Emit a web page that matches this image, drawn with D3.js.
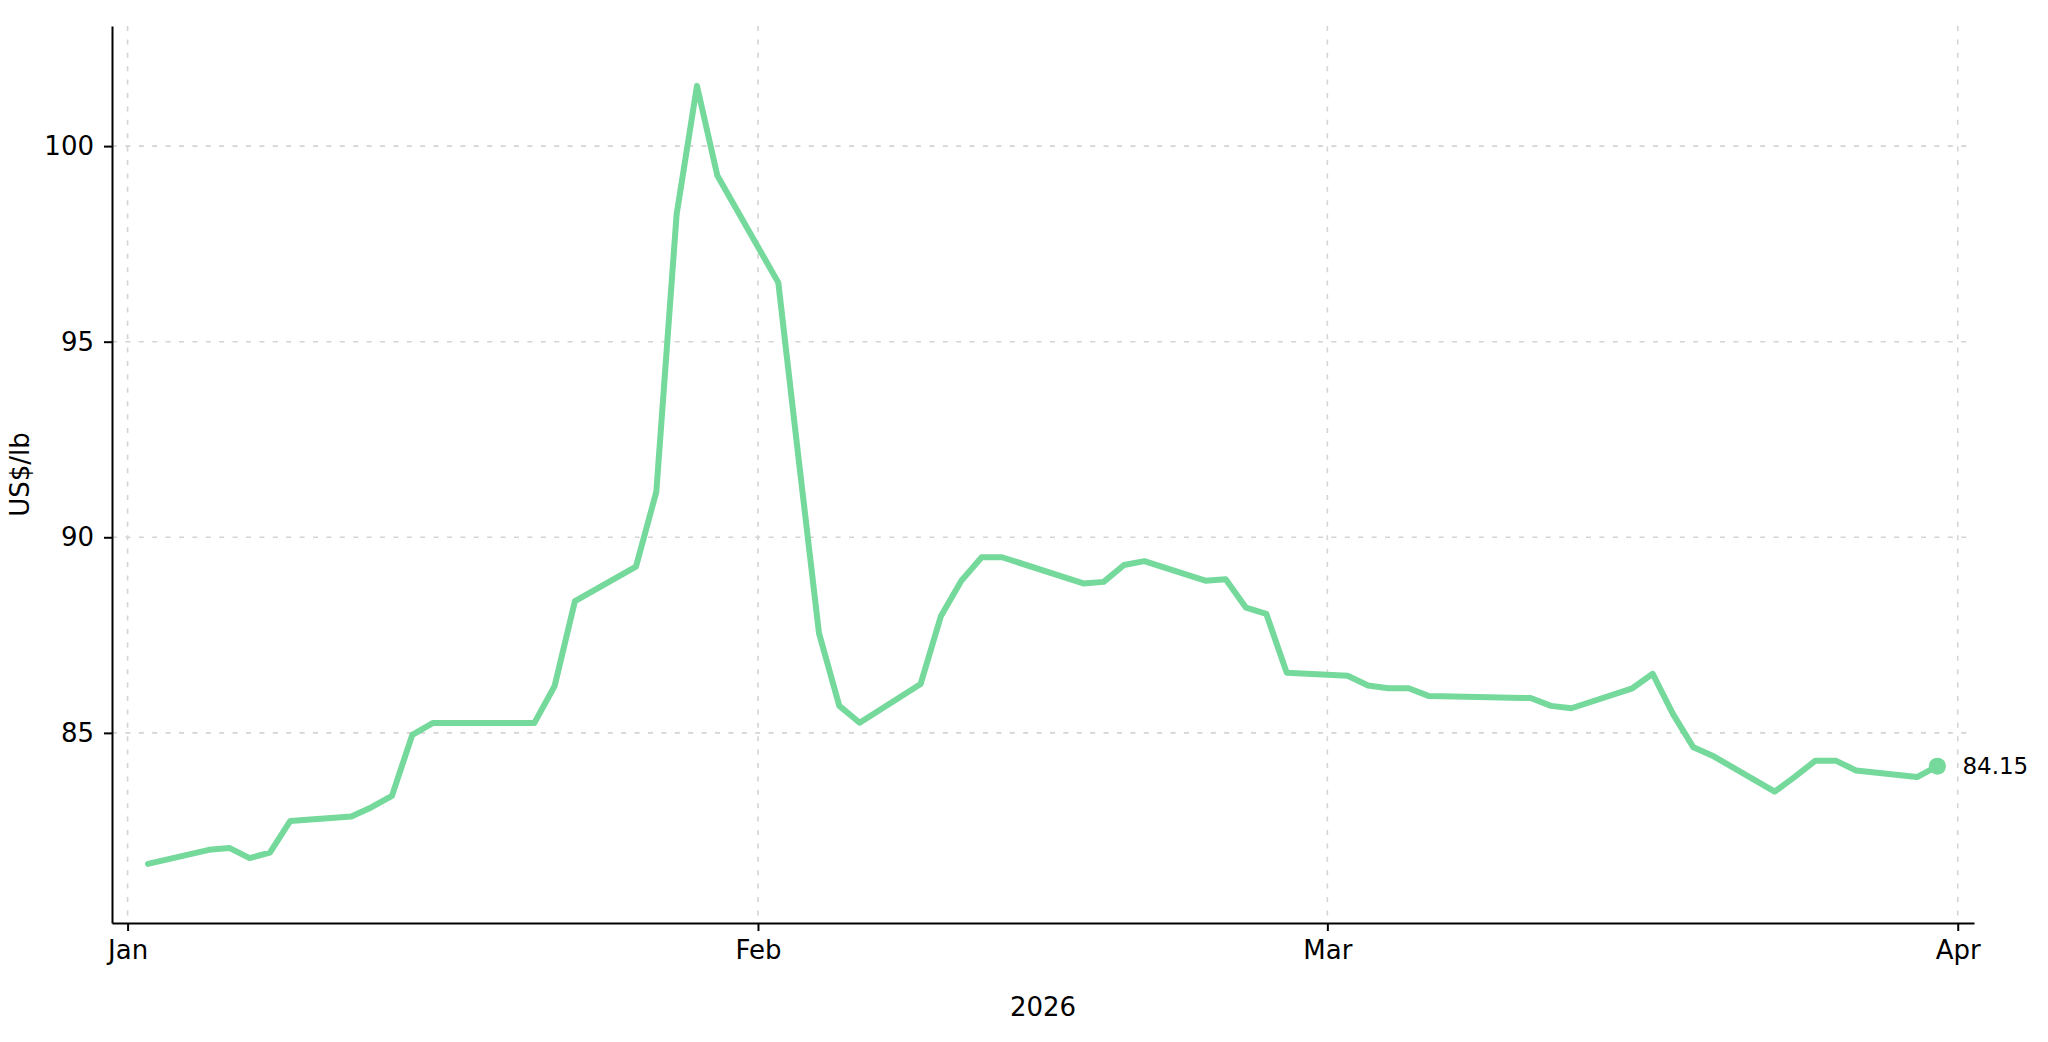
<!DOCTYPE html>
<html>
<head>
<meta charset="utf-8">
<script src="https://cdn.jsdelivr.net/npm/d3@7"></script>
<style>
  body { margin: 0; background: #fff; }
  svg { display: block; font-family: "DejaVu Sans", sans-serif; }
</style>
</head>
<body>
<div id="chart"></div>
<script>
// trading days, Jan - Mar 2026
const dates = [
  '2026-01-02', '2026-01-05', '2026-01-06', '2026-01-07', '2026-01-08', '2026-01-09',
  '2026-01-12', '2026-01-13', '2026-01-14', '2026-01-15', '2026-01-16',
  '2026-01-20', '2026-01-21', '2026-01-22', '2026-01-23',
  '2026-01-26', '2026-01-27', '2026-01-28', '2026-01-29', '2026-01-30',
  '2026-02-02', '2026-02-03', '2026-02-04', '2026-02-05', '2026-02-06',
  '2026-02-09', '2026-02-10', '2026-02-11', '2026-02-12', '2026-02-13',
  '2026-02-17', '2026-02-18', '2026-02-19', '2026-02-20',
  '2026-02-23', '2026-02-24', '2026-02-25', '2026-02-26', '2026-02-27',
  '2026-03-02', '2026-03-03', '2026-03-04', '2026-03-05', '2026-03-06',
  '2026-03-09', '2026-03-10', '2026-03-11', '2026-03-12', '2026-03-13',
  '2026-03-16', '2026-03-17', '2026-03-18', '2026-03-19', '2026-03-20',
  '2026-03-23', '2026-03-24', '2026-03-25', '2026-03-26', '2026-03-27',
  '2026-03-30', '2026-03-31'
];
const prices = [
  81.65, 82.01, 82.06, 81.80, 81.94, 82.75,
  82.86, 83.10, 83.39, 84.95, 85.25,
  85.25, 85.25, 86.20, 88.37,
  89.25, 91.16, 98.26, 101.54, 99.25,
  96.51, 92.00, 87.55, 85.69, 85.26,
  86.25, 87.99, 88.89, 89.49, 89.49,
  88.82, 88.86, 89.29, 89.39,
  88.89, 88.93, 88.20, 88.04, 86.54,
  86.46, 86.21, 86.14, 86.14, 85.94,
  85.91, 85.90, 85.89, 85.69, 85.63,
  86.14, 86.51, 85.48, 84.63, 84.40,
  83.50, 83.88, 84.29, 84.29, 84.04,
  83.87, 84.15
];
const yTicks = [85, 90, 95, 100];
const xTicks = ['2026-01-01', '2026-02-01', '2026-03-01', '2026-04-01'];
const yLabel = 'US$/lb';
const xLabel = '2026';

const width = 2048;
const height = 1042;
const margin = { top: 26, right: 74, bottom: 119, left: 112 };
const lineColor = '#74d99b';

const parse = d3.utcParse('%Y-%m-%d');
const data = dates.map((d, i) => ({ date: parse(d), value: prices[i] }));

const svg = d3.select('#chart')
  .append('svg')
  .attr('width', width)
  .attr('height', height);

const day = 24 * 3600 * 1000;
const jan1 = parse('2026-01-01').getTime();
const x = d3.scaleUtc()
  .domain([new Date(jan1 - 0.767 * day), new Date(jan1 + 90.8 * day)])
  .range([margin.left, width - margin.right]);

const y = d3.scaleLinear()
  .domain([80.14, 103.07])
  .range([height - margin.bottom, margin.top]);

// grid
const grid = svg.append('g')
  .attr('stroke', '#d4d4d4')
  .attr('stroke-width', 1.6)
  .attr('stroke-dasharray', '5,8.4');

grid.selectAll('.hgrid')
  .data(yTicks)
  .join('line')
  .attr('x1', margin.left)
  .attr('x2', width - margin.right)
  .attr('y1', d => y(d))
  .attr('y2', d => y(d));

grid.selectAll('.vgrid')
  .data(xTicks.map(parse))
  .join('line')
  .attr('x1', d => x(d))
  .attr('x2', d => x(d))
  .attr('y1', margin.top)
  .attr('y2', height - margin.bottom);

// axes
const xAxis = svg.append('g')
  .attr('transform', `translate(0, ${height - margin.bottom})`)
  .call(d3.axisBottom(x)
    .tickValues(xTicks.map(parse))
    .tickFormat(d3.utcFormat('%b'))
    .tickSize(8)
    .tickPadding(10)
    .tickSizeOuter(0));

const yAxis = svg.append('g')
  .attr('transform', `translate(${margin.left}, 0)`)
  .call(d3.axisLeft(y)
    .tickValues(yTicks)
    .tickSize(8)
    .tickPadding(10)
    .tickSizeOuter(0));

[xAxis, yAxis].forEach(ax => {
  ax.attr('font-family', '"DejaVu Sans", sans-serif').attr('font-size', 26);
  ax.selectAll('path, line').attr('stroke', '#000').attr('stroke-width', 2);
  ax.selectAll('text').attr('fill', '#000');
});

// axis labels
svg.append('text')
  .text(xLabel)
  .attr('x', (margin.left + width - margin.right) / 2)
  .attr('y', 1016)
  .attr('text-anchor', 'middle')
  .attr('font-size', 26);

svg.append('text')
  .text(yLabel)
  .attr('transform', `translate(29, ${(margin.top + height - margin.bottom) / 2}) rotate(-90)`)
  .attr('text-anchor', 'middle')
  .attr('font-size', 26);

// price line
const line = d3.line()
  .x(d => x(d.date))
  .y(d => y(d.value));

svg.append('path')
  .datum(data)
  .attr('d', line)
  .attr('fill', 'none')
  .attr('stroke', lineColor)
  .attr('stroke-width', 6)
  .attr('stroke-linejoin', 'round')
  .attr('stroke-linecap', 'round');

// last point marker + label
const last = data[data.length - 1];
svg.append('circle')
  .attr('cx', x(last.date))
  .attr('cy', y(last.value))
  .attr('r', 8.5)
  .attr('fill', lineColor);

svg.append('text')
  .text(last.value.toFixed(2))
  .attr('x', x(last.date) + 25)
  .attr('y', y(last.value))
  .attr('dy', '0.35em')
  .attr('font-size', 23);
</script>
</body>
</html>
